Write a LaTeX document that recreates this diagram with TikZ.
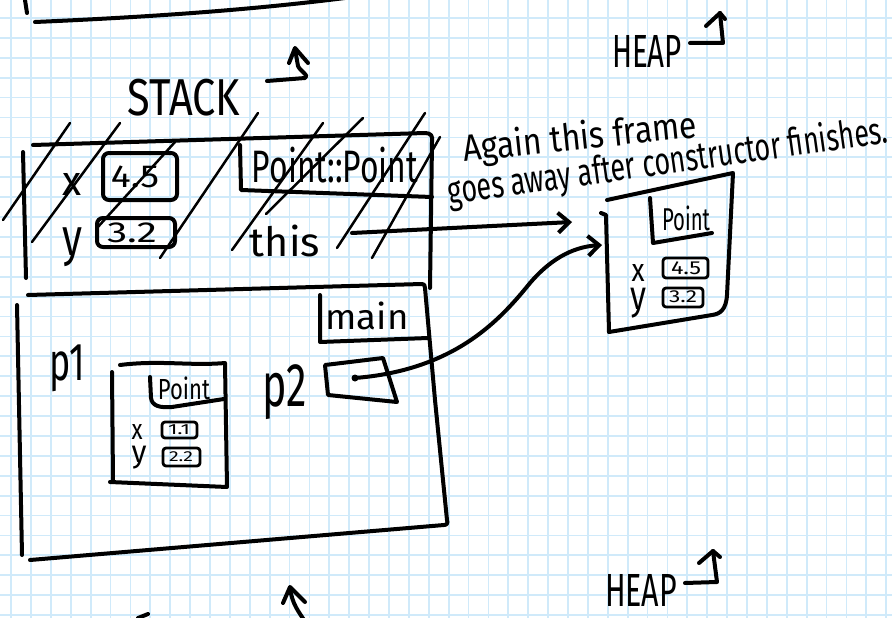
\documentclass[tikz,border=0pt]{standalone}
\usepackage{fontspec}
\setmainfont{Fira Sans}
\usepackage{graphicx}
\usetikzlibrary{arrows.meta}
\definecolor{gridblue}{RGB}{208,234,250}
\newcommand{\fitbox}[3]{\resizebox*{#1pt}{#2pt}{#3}}
\begin{document}
\begin{tikzpicture}[x=1pt,y=-1pt,
  ink/.style={line width=4pt,line cap=round,line join=round},
  thinink/.style={line width=2.8pt,line cap=round,line join=round},
  hatchline/.style={line width=2.5pt,line cap=round},
  gridline/.style={gridblue,line width=1.8pt},
  txt/.style={inner sep=0pt,outer sep=0pt},
  barb/.style={-{Straight Barb[length=11pt,width=20pt]}},
  valbox/.style={ink,rounded corners=6pt},
  smallbox/.style={thinink,rounded corners=3pt}]
\useasboundingbox (0,0) rectangle (892,618);
\fill[white] (0,0) rectangle (892,618);
\clip (0,0) rectangle (892,618);
% grid
\foreach \i in {0,...,45} \draw[gridline] ({11.1+\i*19.89},0) -- ++(0,618);
\foreach \j in {0,...,30} \draw[gridline] (0,{18+\j*19.9}) -- ++(892,0);

% fragment of frame above
\draw[ink] (25,0) -- (27,13);
\draw[ink] (35,22) .. controls (150,17) and (250,10) .. (345,-2);

% STACK label and arrow
\node[txt] (stacklbl) at (184,98) {\fitbox{112}{37}{STACK}};
\draw[ink] (267,81) -- (305,78) .. controls (310,76) and (300,71) .. (298,66) -- (295,49);
\draw[ink] (289,63) -- (295,48) -- (308,63);

% HEAP labels
\node[txt] (heaptop) at (647,51) {\fitbox{70}{32}{HEAP}};
\draw[ink] (690,43) -- (723,43) -- (720,13);
\draw[ink] (706,26) -- (720,13) -- (725,19);
\node[txt] (heapbot) at (641,590) {\fitbox{72}{32}{HEAP}};
\draw[ink] (685,583) -- (717,582) -- (713,551);
\draw[ink] (699,563) -- (713,551) -- (720,557);

% bottom arrow and mark
\draw[ink] (283,603) -- (290,587) -- (305,602);
\draw[ink] (290,588) .. controls (292,604) and (299,612) .. (304,620);
\draw[ink] (138,618) -- (148,614);

% constructor frame (Point::Point)
\draw[ink] (33,145) -- (425,133) .. controls (431,133) and (433,136) .. (432,142) -- (430,288);
\draw[ink] (23,152) -- (26,278);
\draw[ink] (240,145) -- (241,190) -- (432,197);
\node[txt] (ctorlbl) at (335,165) {\fitbox{166}{36}{Point::Point}};
\node[txt] (sx) at (72,184) {\fitbox{19}{22}{x}};
\draw[valbox] (103,153) rectangle (177,200);
\node[txt] (sxv) at (135,177) {\fitbox{48}{22}{4.5}};
\node[txt] (sy) at (73,247) {\fitbox{20}{39}{y}};
\draw[valbox] (97,218) rectangle (175,247);
\node[txt] (syv) at (132,233) {\fitbox{50}{20}{3.2}};
\node[txt] (this) at (285,241) {\fitbox{70}{32}{this}};

% hatching
\draw[hatchline] (3,220) -- (70,123);
\draw[hatchline] (32,242) -- (120,123);
\draw[hatchline] (97,228) -- (175,142);
\draw[hatchline] (160,258) -- (258,113);
\draw[hatchline] (232,250) -- (323,123);
\draw[hatchline] (266,214) -- (363,118);
\draw[hatchline] (337,248) -- (425,113);
\draw[hatchline] (372,258) -- (440,137);

% main frame
\draw[ink] (28,295) -- (422,284) .. controls (424,284) and (425,285) .. (425,288) -- (435,400) -- (447,520) .. controls (448,523) and (447,525) .. (444,525) -- (30,560);
\draw[ink] (17,305) -- (22,555);
\draw[ink] (320,295) -- (320,342) -- (428,338);
\node[txt] (mainlbl) at (367,316) {\fitbox{83}{28}{main}};
\node[txt] (p1) at (67,368) {\fitbox{35}{47}{p1}};

% p1 object
\draw[ink] (112,372) -- (113,482);
\draw[ink] (120,365) .. controls (160,360) and (190,366) .. (225,363) -- (227,487) -- (110,482);
\draw[ink] (150,377) -- (151,398) .. controls (152,406) and (160,408) .. (172,407) -- (224,399);
\node[txt] (p1lbl) at (184,388) {\fitbox{52}{23}{Point}};
\node[txt] (p1x) at (137,432) {\fitbox{11}{15}{x}};
\draw[smallbox] (162,422) rectangle (197,438);
\node[txt] (p1xv) at (179,430) {\fitbox{22}{10}{1.1}};
\node[txt] (p1y) at (139,458) {\fitbox{15}{23}{y}};
\draw[smallbox] (163,448) rectangle (200,466);
\node[txt] (p1yv) at (181,457) {\fitbox{24}{10}{2.2}};

% p2
\node[txt] (p2) at (285,392) {\fitbox{44}{55}{p2}};
\draw[ink] (325,365) -- (383,358) -- (397,402) -- (328,395) -- cycle;
\node[circle,fill,inner sep=0pt,minimum size=7pt] (p2dot) at (355,378) {};

% heap object
\draw[ink] (607,200) -- (733,173) -- (727,295) .. controls (726,310) and (720,314) .. (712,315) -- (609,332);
\draw[ink] (601,213) -- (606,215) -- (609,332);
\draw[ink] (650,198) -- (653,243) -- (712,233);
\node[txt] (heaplbl) at (686,218) {\fitbox{48}{25}{Point}};
\node[txt] (hx) at (638,273) {\fitbox{13}{17}{x}};
\draw[smallbox] (663,258) rectangle (708,278);
\node[txt] (hxv) at (686,268) {\fitbox{30}{13}{4.5}};
\node[txt] (hy) at (638,303) {\fitbox{16}{30}{y}};
\draw[smallbox] (663,288) rectangle (703,307);
\node[txt] (hyv) at (683,297) {\fitbox{28}{12}{3.2}};
\coordinate (heapinA) at (572,222);
\coordinate (heapinB) at (602,245);

% note
\node[txt,rotate=6] (note1) at (580,139) {\fitbox{235}{37}{Again this frame}};
\node[txt,rotate=8] (note2) at (668,163) {\fitbox{444}{38}{goes away after constructor finishes.}};

% pointers
\coordinate (thisfrom) at (352,233);
\draw[ink,barb] (thisfrom) -- (heapinA);
\draw[ink,barb] (p2dot.center) .. controls (455,370) and (500,320) .. (530,283) .. controls (548,262) and (570,247) .. (heapinB);
\end{tikzpicture}
\end{document}
